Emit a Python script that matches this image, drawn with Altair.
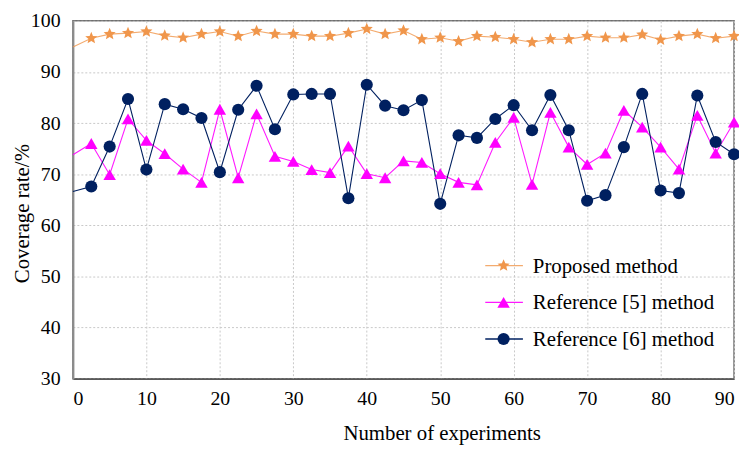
import math
import altair as alt
import pandas as pd

# ---------------- data ----------------
x_values = [0, 2.5, 5, 7.5, 10, 12.5, 15, 17.5, 20, 22.5, 25, 27.5, 30, 32.5, 35,
            37.5, 40, 42.5, 45, 47.5, 50, 52.5, 55, 57.5, 60, 62.5, 65, 67.5, 70,
            72.5, 75, 77.5, 80, 82.5, 85, 87.5, 90]
proposed = [94.9, 96.6, 97.4, 97.6, 97.9, 97.1, 96.7, 97.4, 97.9, 97.0, 98.0, 97.4,
            97.4, 97.0, 97.0, 97.6, 98.4, 97.4, 98.1, 96.4, 96.7, 96.0, 97.0, 96.8,
            96.4, 95.8, 96.4, 96.4, 97.0, 96.7, 96.7, 97.3, 96.3, 97.0, 97.4, 96.6, 97.0]
ref5 = [73.8, 76.0, 69.9, 80.8, 76.6, 74.0, 71.0, 68.4, 82.7, 69.3, 81.8, 73.5,
        72.5, 70.9, 70.3, 75.5, 70.1, 69.3, 72.6, 72.3, 70.1, 68.4, 67.9, 76.2,
        81.1, 68.0, 82.1, 75.3, 71.9, 74.1, 82.5, 79.2, 75.3, 71.0, 81.5, 74.1, 80.2]
ref6 = [66.6, 67.6, 75.4, 84.7, 70.9, 83.7, 82.7, 81.0, 70.4, 82.6, 87.3, 78.8,
        85.6, 85.7, 85.7, 65.3, 87.5, 83.4, 82.5, 84.5, 64.2, 77.6, 77.1, 80.8,
        83.5, 78.6, 85.5, 78.6, 64.8, 65.9, 75.3, 85.7, 66.8, 66.3, 85.4, 76.3, 73.9]

series_names = ["Proposed method", "Reference [5] method", "Reference [6] method"]
series_colors = ["#F0964B", "#FF00FF", "#002060"]
line_opacity = [0.8, 1.0, 1.0]
marker_sizes = [165, 150, 110]
x_ticks = [0, 10, 20, 30, 40, 50, 60, 70, 80, 90]
y_ticks = [30, 40, 50, 60, 70, 80, 90, 100]

# ---------------- styling helpers ----------------
star_pts = []
for i in range(10):
    ang = math.radians(-90 + 36 * i)
    r = 1.0 if i % 2 == 0 else 0.45
    star_pts.append(f"{r * math.cos(ang):.4f},{r * math.sin(ang):.4f}")
star_path = "M" + "L".join(star_pts) + "Z"
marker_shapes = [star_path, "triangle-up", "circle"]

FONT = "Liberation Serif"

rows = []
for name, vals in zip(series_names, [proposed, ref5, ref6]):
    for xv, yv in zip(x_values, vals):
        rows.append({"x": xv, "y": yv, "series": name})
df = pd.DataFrame(rows)
legend_df = pd.DataFrame({"series": series_names})

color_enc = alt.Color("series:N", scale=alt.Scale(domain=series_names, range=series_colors), legend=None)
shape_enc = alt.Shape("series:N", scale=alt.Scale(domain=series_names, range=marker_shapes), legend=None)
size_enc = alt.Size("series:N", scale=alt.Scale(domain=series_names, range=marker_sizes), legend=None)
opac_enc = alt.Opacity("series:N", scale=alt.Scale(domain=series_names, range=line_opacity), legend=None)

x_enc = alt.X("x:Q",
              scale=alt.Scale(domain=[0, 90], nice=False, zero=False),
              axis=alt.Axis(values=x_ticks, title="Number of experiments",
                            labelPadding=10, titleX=372, titleY=61,
                            titleBaseline="alphabetic", titleAnchor="start",
                            titleAlign="center",
                            domainColor="#595959", domainWidth=1.5))
y_enc = alt.Y("y:Q",
              scale=alt.Scale(domain=[30, 100], nice=False, zero=False),
              axis=alt.Axis(values=y_ticks, title="Coverage rate/%",
                            labelPadding=13, titleX=-51, titleY=194,
                            titleBaseline="middle", titleAlign="center",
                            domainColor="#8C8C8C", domainWidth=2))

base = alt.Chart(df)
lines = base.mark_line(strokeWidth=1.1).encode(
    x=x_enc, y=y_enc, color=color_enc, opacity=opac_enc
)
points = base.transform_filter("datum.x > 0").mark_point(filled=True, opacity=1).encode(
    x="x:Q", y="y:Q", color=color_enc, shape=shape_enc, size=size_enc
)

leg_y = alt.Y("series:N", scale=alt.Scale(type="point", domain=series_names,
                                          range=[247, 321], padding=0), axis=None)
leg_base = alt.Chart(legend_df)
leg_rule = leg_base.mark_rule(strokeWidth=1.3).encode(
    x=alt.value(416), x2=alt.value(454), y=leg_y, color=color_enc, opacity=opac_enc
)
leg_pt = leg_base.mark_point(filled=True, opacity=1).encode(
    x=alt.value(434.5), y=leg_y, color=color_enc, shape=shape_enc, size=size_enc
)
leg_txt = leg_base.mark_text(align="left", baseline="middle", font=FONT,
                             fontSize=21, color="black", dy=1).encode(
    x=alt.value(464), y=leg_y, text="series:N"
)

main = alt.layer(lines, points)
legend = alt.layer(leg_rule, leg_pt, leg_txt)

chart = alt.layer(main, legend).resolve_scale(y="independent").properties(
    width=667, height=361,
    autosize=alt.AutoSizeParams(type="none"),
    padding={"left": 65.5, "top": 11, "right": 5, "bottom": 65},
    background="white",
).configure_axis(
    labelFont=FONT, titleFont=FONT, labelFontSize=20, titleFontSize=21,
    labelColor="black", titleColor="black", titleFontWeight="normal",
    gridColor="#C8C8C8", gridDash=[2, 2], gridWidth=1, tickSize=0,
).configure_view(stroke="#6E6E6E", strokeWidth=1.5)

chart.save("out.html", embed_options={"renderer": "svg", "actions": False})
